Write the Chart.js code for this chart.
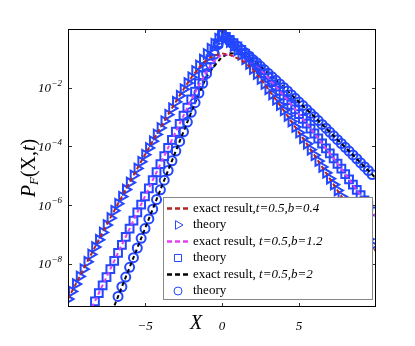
<!DOCTYPE html>
<html>
<head>
<meta charset="utf-8">
<script src="https://cdn.jsdelivr.net/npm/chart.js@4.4.1/dist/chart.umd.min.js"></script>
<style>
  html, body { margin: 0; padding: 0; background: #fff; }
</style>
</head>
<body>
<canvas id="myChart" width="415" height="346"></canvas>
<script>
// X positions of the theory markers
var xs = [
  -10, -9.75, -9.5, -9.25, -9, -8.75, -8.5, -8.25, -8, -7.75,
  -7.5, -7.25, -7, -6.75, -6.5, -6.25, -6, -5.75, -5.5, -5.25,
  -5, -4.75, -4.5, -4.25, -4, -3.75, -3.5, -3.25, -3, -2.75,
  -2.5, -2.25, -2, -1.75, -1.5, -1.25, -1, -0.75, -0.5, -0.25,
  0, 0.25, 0.5, 0.75, 1, 1.25, 1.5, 1.75, 2, 2.25,
  2.5, 2.75, 3, 3.25, 3.5, 3.75, 4, 4.25, 4.5, 4.75,
  5, 5.25, 5.5, 5.75, 6, 6.25, 6.5, 6.75, 7, 7.25,
  7.5, 7.75, 8, 8.25, 8.5, 8.75, 9, 9.25, 9.5, 9.75
];

// log10 P (theory markers)
var triangleLog = [
  -9.20, -8.94, -8.69, -8.43, -8.18, -7.93, -7.68, -7.43, -7.18, -6.93,
  -6.68, -6.44, -6.19, -5.95, -5.71, -5.47, -5.23, -4.99, -4.75, -4.52,
  -4.28, -4.05, -3.82, -3.59, -3.37, -3.14, -2.92, -2.70, -2.48, -2.27,
  -2.05, -1.84, -1.64, -1.43, -1.24, -1.04, -0.85, -0.67, -0.50, -0.33,
  -0.20, -0.31, -0.44, -0.58, -0.72, -0.88, -1.03, -1.19, -1.36, -1.53,
  -1.70, -1.87, -2.05, -2.23, -2.41, -2.59, -2.77, -2.96, -3.15, -3.34,
  -3.53, -3.72, -3.91, -4.11, -4.30, -4.50, -4.70, -4.90, -5.10, -5.30,
  -5.50, -5.71, -5.91, -6.12, -6.32, -6.53, -6.74, -6.95, -7.16, -7.37
];
var squareLog = [
  null, null, null, null, null, null, null, -9.28, -9.00, -8.73,
  -8.45, -8.18, -7.90, -7.63, -7.35, -7.08, -6.80, -6.53, -6.25, -5.98,
  -5.70, -5.43, -5.15, -4.88, -4.60, -4.33, -4.05, -3.78, -3.50, -3.23,
  -2.95, -2.68, -2.40, -2.13, -1.85, -1.58, -1.30, -1.03, -0.75, -0.48,
  -0.20, -0.27, -0.37, -0.48, -0.59, -0.71, -0.84, -0.97, -1.10, -1.23,
  -1.37, -1.52, -1.66, -1.81, -1.96, -2.11, -2.26, -2.42, -2.58, -2.74,
  -2.90, -3.06, -3.22, -3.39, -3.56, -3.73, -3.90, -4.07, -4.24, -4.41,
  -4.59, -4.76, -4.94, -5.12, -5.30, -5.48, -5.66, -5.84, -6.03, -6.21
];
var circleLog = [
  null, null, null, null, null, null, null, null, null, null,
  null, null, null, -9.11, -8.78, -8.45, -8.12, -7.79, -7.46, -7.13,
  -6.80, -6.47, -6.14, -5.81, -5.48, -5.15, -4.82, -4.49, -4.16, -3.83,
  -3.50, -3.17, -2.84, -2.51, -2.18, -1.85, -1.52, -1.19, -0.86, -0.53,
  -0.20, -0.29, -0.38, -0.49, -0.59, -0.70, -0.81, -0.92, -1.04, -1.15,
  -1.27, -1.39, -1.51, -1.63, -1.75, -1.87, -1.99, -2.11, -2.24, -2.36,
  -2.49, -2.61, -2.74, -2.87, -2.99, -3.12, -3.25, -3.38, -3.51, -3.64,
  -3.77, -3.90, -4.03, -4.16, -4.29, -4.42, -4.56, -4.69, -4.82, -4.96
];

// exact results (dashed lines), log10 P
var exactX = [
  -10, -9.5, -9, -8.5, -8, -7.5, -7, -6.5, -6, -5.5,
  -5, -4.5, -4, -3.5, -3, -2.5, -2, -1.5, -1, -0.5,
  0,
  0.5, 1, 1.5, 2, 2.5, 3, 3.5, 4, 4.5, 5,
  5.5, 6, 6.5, 7, 7.5, 8, 8.5, 9, 9.5, 10
];
var exactLogB04 = [
  -9.20, -8.69, -8.18, -7.68, -7.18, -6.68, -6.19, -5.71, -5.23, -4.75,
  -4.28, -3.82, -3.37, -2.92, -2.48, -2.05, -1.66, -1.32, -1.05, -0.90,
  -0.83,
  -0.88, -1.00, -1.14, -1.38, -1.70, -2.05, -2.41, -2.77, -3.15, -3.53,
  -3.91, -4.30, -4.70, -5.10, -5.50, -5.91, -6.32, -6.74, -7.16, -7.58
];
var exactLogB12 = [
  -11.2, -10.65, -10.1, -9.55, -9.0, -8.45, -7.9, -7.35, -6.8, -6.25,
  -5.7, -5.15, -4.6, -4.05, -3.5, -2.95, -2.42, -1.92, -1.45, -1.08,
  -0.86,
  -0.88, -0.98, -1.08, -1.20, -1.40, -1.66, -1.96, -2.26, -2.58, -2.90,
  -3.22, -3.56, -3.90, -4.24, -4.59, -4.94, -5.30, -5.66, -6.03, -6.40
];
var exactLogB2 = [
  -13.4, -12.74, -12.08, -11.42, -10.76, -10.1, -9.44, -8.78, -8.12, -7.46,
  -6.8, -6.14, -5.48, -4.82, -4.16, -3.5, -2.84, -2.2, -1.62, -1.26,
  -0.95,
  -0.83, -0.84, -0.92, -1.06, -1.27, -1.51, -1.75, -1.99, -2.24, -2.49,
  -2.74, -2.99, -3.25, -3.51, -3.77, -4.03, -4.29, -4.56, -4.82, -5.09
];

var seriesLabels = [
  'exact result,t=0.5,b=0.4', 'theory',
  'exact result, t=0.5,b=1.2', 'theory',
  'exact result, t=0.5,b=2', 'theory'
];
var xTicks = [-5, 0, 5];
var yTickExps = [-2, -4, -6, -8];

var serif = '"Liberation Serif", "DejaVu Serif", serif';
var blue = '#2346ff';

function toPoints(xv, logs) {
  return xv.map(function (x, i) {
    return { x: x, y: logs[i] === null ? null : Math.pow(10, logs[i]) };
  });
}

function exactSet(label, logs, color) {
  return {
    label: label, data: toPoints(exactX, logs), showLine: true,
    borderColor: color, borderWidth: 2, borderDash: [4, 3],
    pointRadius: 0, clip: 0
  };
}
function theorySet(label, logs, style, r, rot) {
  return {
    label: label, data: toPoints(xs, logs), showLine: false,
    pointStyle: style, pointRadius: r, pointRotation: rot,
    borderColor: blue, backgroundColor: 'rgba(0,0,0,0)',
    pointBorderWidth: 2, clip: 0
  };
}

var datasets = [
  exactSet(seriesLabels[0], exactLogB04, '#b3261e'),
  theorySet(seriesLabels[1], triangleLog, 'triangle', 5.5, 90),
  exactSet(seriesLabels[2], exactLogB12, '#e040f0'),
  theorySet(seriesLabels[3], squareLog, 'rect', 5.5, 0),
  exactSet(seriesLabels[4], exactLogB2, '#000000'),
  theorySet(seriesLabels[5], circleLog, 'circle', 4.5, 0)
];

// frame, inward ticks, y labels, axis titles and legend
var decor = {
  id: 'decor',
  afterDatasetsDraw: function (chart) {
    var ctx = chart.ctx, a = chart.chartArea;
    var xs_ = chart.scales.x, ys_ = chart.scales.y;
    ctx.save();

    function line(x1, y1, x2, y2) {
      ctx.beginPath(); ctx.moveTo(x1, y1); ctx.lineTo(x2, y2); ctx.stroke();
    }
    ctx.lineWidth = 1;
    ctx.strokeStyle = '#333';
    xTicks.forEach(function (v) {
      var px = Math.round(xs_.getPixelForValue(v)) + 0.5;
      line(px, a.bottom, px, a.bottom - 4);
      line(px, a.top, px, a.top + 4);
    });
    yTickExps.forEach(function (e) {
      var py = Math.round(ys_.getPixelForValue(Math.pow(10, e))) + 0.5;
      line(a.left, py, a.left + 4, py);
      line(a.right, py, a.right - 4, py);
    });
    ctx.strokeStyle = '#000';
    ctx.strokeRect(a.left + 0.5, a.top + 0.5, a.right - a.left - 1, a.bottom - a.top - 1);

    // y tick labels 10^-n
    ctx.fillStyle = '#000';
    ctx.textBaseline = 'middle';
    ctx.textAlign = 'left';
    yTickExps.forEach(function (e) {
      var py = ys_.getPixelForValue(Math.pow(10, e));
      var sup = '\u2212' + Math.abs(e);
      ctx.font = 'italic 9px ' + serif;
      var sw = ctx.measureText(sup).width;
      ctx.font = 'italic 13px ' + serif;
      var bw = ctx.measureText('10').width;
      var right = a.left - 6;
      ctx.fillText('10', right - sw - bw - 0.5, py + 1);
      ctx.font = 'italic 9px ' + serif;
      ctx.fillText(sup, right - sw, py - 4);
    });

    // x title
    ctx.font = 'italic 20px ' + serif;
    ctx.textAlign = 'center';
    ctx.fillText('X', 196, 324);

    // y title P_F(X,t)
    ctx.save();
    ctx.translate(30, 168);
    ctx.rotate(-Math.PI / 2);
    var parts = [
      ['P', 'italic 20px ', 0], ['F', 'italic 13px ', 5],
      ['(X,', '20px ', 0], ['t', 'italic 20px ', 0], [')', '20px ', 0]
    ];
    var total = 0;
    parts.forEach(function (p) { ctx.font = p[1] + serif; total += ctx.measureText(p[0]).width; });
    var cx = -total / 2;
    ctx.textAlign = 'left';
    parts.forEach(function (p) {
      ctx.font = p[1] + serif;
      ctx.fillText(p[0], cx, p[2]);
      cx += ctx.measureText(p[0]).width;
    });
    ctx.restore();

    // legend
    var bx = 163.5, by = 197.5, bw2 = 209, bh = 102;
    ctx.fillStyle = '#fff';
    ctx.fillRect(bx, by, bw2, bh);
    ctx.strokeStyle = '#888';
    ctx.strokeRect(bx, by, bw2, bh);
    var rowY = [208.5, 225, 241.5, 258, 274.5, 291];
    datasets.forEach(function (ds, i) {
      var y = rowY[i];
      if (ds.showLine) {
        ctx.save();
        ctx.strokeStyle = ds.borderColor;
        ctx.lineWidth = 2.5;
        ctx.setLineDash([5, 3]);
        line(167, y, 188, y);
        ctx.restore();
      } else {
        ctx.save();
        ctx.strokeStyle = blue;
        ctx.fillStyle = 'rgba(0,0,0,0)';
        Chart.helpers.drawPoint(ctx, {
          pointStyle: ds.pointStyle, radius: ds.pointRadius - 0.5,
          rotation: ds.pointRotation, borderWidth: 2
        }, 178, y);
        ctx.restore();
      }
      ctx.fillStyle = '#000';
      ctx.textAlign = 'left';
      ctx.textBaseline = 'middle';
      var label = ds.label, head = 'exact result,';
      var tx = 193;
      if (label.indexOf(head) === 0) {
        ctx.font = '13px ' + serif;
        ctx.fillText(head, tx, y);
        tx += ctx.measureText(head).width;
        ctx.font = 'italic 13px ' + serif;
        ctx.fillText(label.slice(head.length), tx, y);
      } else {
        ctx.font = '13px ' + serif;
        ctx.fillText(label, tx, y);
      }
    });
    ctx.restore();
  }
};

var myChart = new Chart(document.getElementById('myChart'), {
  type: 'scatter',
  data: { datasets: datasets },
  options: {
    responsive: false,
    animation: false,
    layout: { padding: { top: 29, right: 39, left: 0, bottom: 0 } },
    plugins: { legend: { display: false }, tooltip: { enabled: false } },
    scales: {
      x: {
        type: 'linear', min: -10, max: 10,
        afterBuildTicks: function (s) { s.ticks = xTicks.map(function (v) { return { value: v }; }); },
        afterFit: function (s) { s.height = 39; },
        grid: { display: false }, border: { display: false },
        ticks: {
          padding: 4, color: '#000',
          font: { family: serif, style: 'italic', size: 13 },
          callback: function (v) { return v < 0 ? '\u2212' + Math.abs(v) : String(v); }
        }
      },
      y: {
        type: 'logarithmic', min: Math.pow(10, -9.47), max: 1,
        afterBuildTicks: function (s) { s.ticks = yTickExps.map(function (e) { return { value: Math.pow(10, e) }; }); },
        afterFit: function (s) { s.width = 68; },
        grid: { display: false }, border: { display: false },
        ticks: { display: false }
      }
    }
  },
  plugins: [decor]
});
</script>
</body>
</html>
